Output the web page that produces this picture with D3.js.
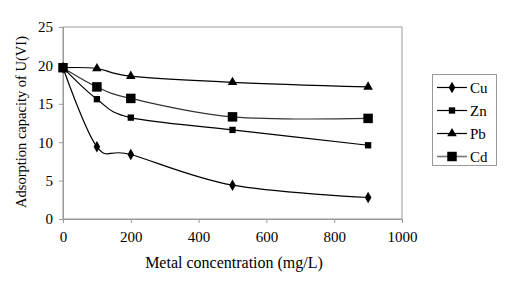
<!DOCTYPE html>
<html lang="en">
<head>
<meta charset="UTF-8">
<title>Adsorption capacity</title>
<script src="https://cdn.jsdelivr.net/npm/d3@7"></script>
<style>
    body { margin: 0; background: #fff; }
    text { font-family: "Liberation Serif", "Times New Roman", serif; fill: #000; }
</style>
</head>
<body>
<svg id="svg" width="507" height="294"></svg>
<script>
    // data
    const concentration = [0, 100, 200, 500, 900];
    const cu = [19.7, 9.4, 8.4, 4.4, 2.8];
    const zn = [19.7, 15.6, 13.2, 11.6, 9.6];
    const pb = [19.7, 19.6, 18.6, 17.8, 17.2];
    const cd = [19.7, 17.2, 15.7, 13.3, 13.1];
    const seriesNames = ["Cu", "Zn", "Pb", "Cd"];
    const xTicks = [0, 200, 400, 600, 800, 1000];
    const yTicks = [0, 5, 10, 15, 20, 25];

    const series = [
        { name: "Cu", values: cu, symbol: d3.symbolDiamond, size: 38, color: "#000" },
        { name: "Zn", values: zn, symbol: d3.symbolSquare, size: 40, color: "#000" },
        { name: "Pb", values: pb, symbol: d3.symbolTriangle, size: 40, color: "#000" },
        { name: "Cd", values: cd, symbol: d3.symbolSquare, size: 90, color: "#333" }
    ];

    const svg = d3.select("#svg");
    const plotLeft = 63, plotRight = 402, plotTop = 27, plotBottom = 219;

    const x = d3.scaleLinear().domain([0, 1000]).range([plotLeft, plotRight]);
    const y = d3.scaleLinear().domain([0, 25]).range([plotBottom, plotTop]);

    // plot area border
    svg.append("rect")
        .attr("x", plotLeft).attr("y", plotTop)
        .attr("width", plotRight - plotLeft).attr("height", plotBottom - plotTop)
        .attr("fill", "none").attr("stroke", "#999").attr("stroke-width", 1);

    const xAxis = svg.append("g")
        .attr("transform", `translate(0,${plotBottom})`)
        .call(d3.axisBottom(x).tickValues(xTicks).tickFormat(d3.format("d")).tickSize(4).tickPadding(8));
    const yAxis = svg.append("g")
        .attr("transform", `translate(${plotLeft},0)`)
        .call(d3.axisLeft(y).tickValues(yTicks).tickSize(4).tickPadding(6));
    [xAxis, yAxis].forEach(a => {
        a.select(".domain").attr("stroke", "#999");
        a.selectAll(".tick line").attr("stroke", "#999");
        a.selectAll("text").style("font-size", "15px").style("font-family", "Liberation Serif");
    });

    const line = d3.line()
        .x((d, i) => x(concentration[i]))
        .y(d => y(d))
        .curve(d3.curveCardinal.tension(0));

    series.forEach(s => {
        svg.append("path")
            .attr("d", line(s.values))
            .attr("fill", "none")
            .attr("stroke", s.color)
            .attr("stroke-width", 1.2);
    });
    // markers drawn after lines; Cd last so it covers the shared first point
    series.forEach(s => {
        svg.append("g").selectAll("path")
            .data(s.values)
            .join("path")
            .attr("transform", (d, i) => `translate(${x(concentration[i])},${y(d)})`)
            .attr("d", d3.symbol().type(s.symbol).size(s.size))
            .attr("fill", "#000");
    });

    // axis titles
    svg.append("text")
        .attr("x", 234).attr("y", 268)
        .attr("text-anchor", "middle")
        .style("font-size", "16px")
        .text("Metal concentration (mg/L)");
    svg.append("text")
        .attr("transform", "translate(26,122) rotate(-90)")
        .attr("text-anchor", "middle")
        .style("font-size", "14.5px")
        .text("Adsorption capacity of U(VI)");

    // legend
    const legend = svg.append("g");
    legend.append("rect")
        .attr("x", 432.5).attr("y", 74.5)
        .attr("width", 64).attr("height", 91)
        .attr("fill", "#fff").attr("stroke", "#999");
    const ly = d3.scalePoint().domain(seriesNames).range([87.5, 156.5]);
    series.forEach(s => {
        const g = legend.append("g").attr("transform", `translate(0,${ly(s.name)})`);
        g.append("line")
            .attr("x1", 437).attr("x2", 467)
            .attr("stroke", s.name === "Cd" ? "#777" : "#000")
            .attr("stroke-width", s.name === "Cd" ? 1.6 : 1.2);
        g.append("path")
            .attr("transform", "translate(452,0)")
            .attr("d", d3.symbol().type(s.symbol).size(s.size))
            .attr("fill", "#000");
        g.append("text")
            .attr("x", 470).attr("dy", "0.35em")
            .style("font-size", "15px")
            .text(s.name);
    });
</script>
</body>
</html>
